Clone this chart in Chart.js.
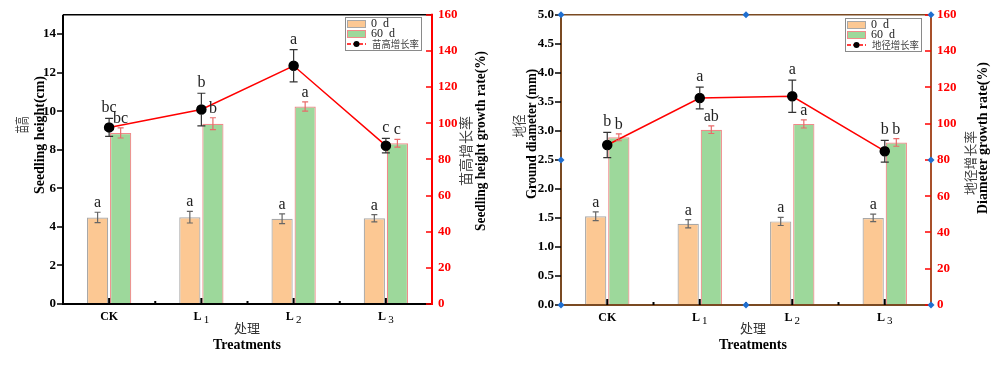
<!DOCTYPE html>
<html><head><meta charset="utf-8">
<script src="https://cdn.jsdelivr.net/npm/chart.js@4/dist/chart.umd.min.js"></script>
<style>
html,body{margin:0;padding:0;background:#fff;width:1000px;height:365px;overflow:hidden}
.wrap{position:absolute;top:0;width:500px;height:365px}
</style></head><body>
<div class="wrap" style="left:0"><canvas id="c1" width="500" height="365"></canvas></div>
<div class="wrap" style="left:500px"><canvas id="c2" width="500" height="365"></canvas></div>
<script>
// ---------- data ----------
const categories = ['CK', 'L1', 'L2', 'L3'];
const seriesNames = ['0  d', '60  d'];

// Seedling height (cm)
const height0 = [4.49, 4.50, 4.42, 4.45];
const height0Err = [0.27, 0.30, 0.25, 0.19];
const height60 = [8.87, 9.35, 10.24, 8.34];
const height60Err = [0.26, 0.31, 0.24, 0.20];
const heightRate = [97.7, 107.6, 131.8, 87.6];
const heightRateErr = [5.0, 9.0, 8.9, 4.0];
const height0Sig = ['a', 'a', 'a', 'a'];
const height60Sig = ['bc', 'b', 'a', 'c'];
const heightRateSig = ['bc', 'b', 'a', 'c'];

// Ground diameter (mm)
const diam0 = [1.53, 1.40, 1.44, 1.50];
const diam0Err = [0.075, 0.07, 0.07, 0.065];
const diam60 = [2.89, 3.02, 3.12, 2.80];
const diam60Err = [0.06, 0.065, 0.07, 0.065];
const diamRate = [88.2, 114.1, 115.1, 84.8];
const diamRateErr = [7.0, 6.0, 8.9, 6.0];
const diam0Sig = ['a', 'a', 'a', 'a'];
const diam60Sig = ['b', 'ab', 'a', 'b'];
const diamRateSig = ['b', 'a', 'a', 'b'];

// tick labels
const heightTicks = [0, 2, 4, 6, 8, 10, 12, 14];
const diamTicks = [0, 0.5, 1.0, 1.5, 2.0, 2.5, 3.0, 3.5, 4.0, 4.5, 5.0];
const rateTicks = [0, 20, 40, 60, 80, 100, 120, 140, 160];

// ---------- styles ----------
const ORANGE = '#fcc893', ORANGE_BORDER = '#a8a8a8';
const GREEN = '#9dd89b', GREEN_BORDER = '#f08a8a';
const RED = '#ff0000';
const SERIF = '"Liberation Serif", "Times New Roman", serif';
const CJK = '"Noto Sans CJK SC", sans-serif';

function makeChart(id, cfg) {
  const plugin = {
    id: 'decor' + id,
    afterDatasetsDraw(chart) {
      const ctx = chart.ctx, a = chart.chartArea;
      const xs = chart.scales.x, yl = chart.scales.y, yr = chart.scales.y2;
      ctx.save();
      // error bars + significance letters
      const errSets = [
        {ds: 0, vals: cfg.v0, err: cfg.e0, color: '#666666', cap: 3, scale: yl, sig: cfg.s0, gap: 5},
        {ds: 1, vals: cfg.v60, err: cfg.e60, color: '#e96a6a', cap: 3, scale: yl, sig: cfg.s60, gap: 5},
        {ds: 2, vals: cfg.rate, err: cfg.rateErr, color: '#333333', cap: 4, scale: yr, sig: cfg.sRate, gap: 6}
      ];
      errSets.forEach(es => {
        const meta = chart.getDatasetMeta(es.ds);
        es.vals.forEach((v, j) => {
          const x = meta.data[j].x;
          const yt = es.scale.getPixelForValue(v + es.err[j]);
          const yb = es.scale.getPixelForValue(v - es.err[j]);
          ctx.strokeStyle = es.color; ctx.lineWidth = 1.2;
          ctx.beginPath();
          ctx.moveTo(x, yt); ctx.lineTo(x, yb);
          ctx.moveTo(x - es.cap, yt); ctx.lineTo(x + es.cap, yt);
          ctx.moveTo(x - es.cap, yb); ctx.lineTo(x + es.cap, yb);
          ctx.stroke();
          ctx.fillStyle = '#222';
          ctx.font = '16px ' + SERIF;
          ctx.textAlign = 'center'; ctx.textBaseline = 'alphabetic';
          ctx.fillText(es.sig[j], x, yt - es.gap);
        });
      });
      // rate points on top of error bars
      const lm = chart.getDatasetMeta(2);
      lm.data.forEach(p => {
        ctx.fillStyle = '#000';
        ctx.beginPath(); ctx.arc(p.x, p.y, 4.5, 0, Math.PI * 2); ctx.fill();
      });

      // axes lines
      ctx.lineCap = 'butt';
      ctx.strokeStyle = cfg.axisColor; ctx.lineWidth = 2;
      ctx.beginPath(); ctx.moveTo(a.left, a.top); ctx.lineTo(a.left, a.bottom + 1); ctx.stroke();
      ctx.beginPath(); ctx.moveTo(a.left - 1, a.bottom); ctx.lineTo(a.right, a.bottom); ctx.stroke();
      ctx.lineWidth = 1.5;
      ctx.beginPath(); ctx.moveTo(a.left, a.top); ctx.lineTo(a.right, a.top); ctx.stroke();
      ctx.strokeStyle = cfg.rightColor; ctx.lineWidth = 2;
      ctx.beginPath(); ctx.moveTo(a.right, a.top - 1); ctx.lineTo(a.right, a.bottom + 1); ctx.stroke();

      // left ticks (outward)
      ctx.strokeStyle = '#000'; ctx.lineWidth = 1.5;
      yl.ticks.forEach(t => {
        const y = Math.round(yl.getPixelForValue(t.value));
        ctx.beginPath(); ctx.moveTo(a.left - 6, y); ctx.lineTo(a.left, y); ctx.stroke();
      });
      // right ticks (inward, red)
      ctx.strokeStyle = RED; ctx.lineWidth = 1.5;
      yr.ticks.forEach(t => {
        const y = Math.round(yr.getPixelForValue(t.value));
        ctx.beginPath(); ctx.moveTo(a.right - 6, y); ctx.lineTo(a.right, y); ctx.stroke();
      });
      // x ticks (inward) and category labels with subscripts
      const n = categories.length, cw = (a.right - a.left) / n;
      for (let i = 0; i < n; i++) {
        const x = xs.getPixelForValue(i);
        ctx.strokeStyle = '#000'; ctx.lineWidth = 2;
        ctx.beginPath(); ctx.moveTo(x, a.bottom); ctx.lineTo(x, a.bottom - 6); ctx.stroke();
        if (i > 0) {
          const xb = a.left + cw * i;
          ctx.beginPath(); ctx.moveTo(xb, a.bottom); ctx.lineTo(xb, a.bottom - 3); ctx.stroke();
        }
        const lab = categories[i];
        const m = lab.match(/^([A-Za-z]+?)(\d*)$/);
        const main = m ? m[1] : lab, sub = m ? m[2] : '';
        ctx.fillStyle = '#000'; ctx.textBaseline = 'alphabetic';
        ctx.font = 'bold 12px ' + SERIF;
        const w1 = ctx.measureText(main).width;
        ctx.font = 'bold 11px ' + SERIF;
        const w2 = sub ? ctx.measureText(sub).width + 2 : 0;
        const x0 = x - (w1 + w2) / 2;
        ctx.textAlign = 'left';
        ctx.font = 'bold 12px ' + SERIF;
        ctx.fillText(main, x0, a.bottom + 16);
        if (sub) {
          ctx.font = '11px ' + SERIF;
          ctx.fillText(sub, x0 + w1 + 2, a.bottom + 19);
        }
      }

      // blue anchor diamonds
      if (cfg.anchors) {
        const mx = (a.left + a.right) / 2, my = (a.top + a.bottom) / 2;
        const pts = [[a.left, a.top], [mx, a.top], [a.right, a.top], [a.left, my], [a.right, my],
                     [a.left, a.bottom], [mx, a.bottom], [a.right, a.bottom]];
        ctx.fillStyle = '#1f6fd1';
        pts.forEach(([x, y]) => {
          ctx.beginPath();
          ctx.moveTo(x, y - 3.5); ctx.lineTo(x + 3.5, y); ctx.lineTo(x, y + 3.5); ctx.lineTo(x - 3.5, y);
          ctx.closePath(); ctx.fill();
        });
      }

      // legend
      const L = cfg.legend;
      ctx.fillStyle = '#fff'; ctx.fillRect(L.x, L.y, 77, 33);
      ctx.strokeStyle = '#8a8a8a'; ctx.lineWidth = 1;
      ctx.strokeRect(L.x + 0.5, L.y + 0.5, 76, 33);
      ctx.fillStyle = ORANGE; ctx.fillRect(L.x + 2, L.y + 3, 19, 7);
      ctx.strokeStyle = ORANGE_BORDER; ctx.strokeRect(L.x + 2.5, L.y + 3.5, 18, 7);
      ctx.fillStyle = GREEN; ctx.fillRect(L.x + 2, L.y + 13, 19, 7);
      ctx.strokeStyle = GREEN_BORDER; ctx.strokeRect(L.x + 2.5, L.y + 13.5, 18, 7);
      ctx.strokeStyle = RED; ctx.lineWidth = 1.5; ctx.setLineDash([4, 2]);
      ctx.beginPath(); ctx.moveTo(L.x + 2, L.y + 27); ctx.lineTo(L.x + 21, L.y + 27); ctx.stroke();
      ctx.setLineDash([]);
      ctx.fillStyle = '#000'; ctx.beginPath(); ctx.arc(L.x + 11.5, L.y + 27, 3, 0, Math.PI * 2); ctx.fill();
      ctx.textAlign = 'left'; ctx.textBaseline = 'middle';
      ctx.fillStyle = '#222'; ctx.font = '12px ' + SERIF;
      ctx.fillText(seriesNames[0], L.x + 26, L.y + 7);
      ctx.fillText(seriesNames[1], L.x + 26, L.y + 17);
      ctx.fillStyle = '#444'; ctx.font = '10.5px ' + CJK;
      ctx.fillText(cfg.rateName, L.x + 27, L.y + 27, 47);

      // axis titles
      const vtext = (txt, x, y, font, color, maxW) => {
        ctx.save(); ctx.translate(x, y); ctx.rotate(-Math.PI / 2);
        ctx.font = font; ctx.fillStyle = color; ctx.textAlign = 'center'; ctx.textBaseline = 'middle';
        if (maxW) ctx.fillText(txt, 0, 0, maxW); else ctx.fillText(txt, 0, 0);
        ctx.restore();
      };
      cfg.titles.forEach(t => vtext(t.text, t.x, t.y, t.font, t.color, t.maxW));
      ctx.textAlign = 'center'; ctx.textBaseline = 'middle';
      ctx.fillStyle = '#333'; ctx.font = '13px ' + CJK;
      ctx.fillText('处理', cfg.xTitleX, 328);
      ctx.fillStyle = '#000'; ctx.font = 'bold 14px ' + SERIF;
      ctx.fillText('Treatments', cfg.xTitleX, 345);
      ctx.restore();
    }
  };

  return new Chart(document.getElementById(id), {
    type: 'bar',
    data: {
      labels: categories,
      datasets: [
        {label: seriesNames[0], data: cfg.v0, backgroundColor: ORANGE, borderColor: ORANGE_BORDER, borderWidth: 1.2,
         categoryPercentage: 0.5, barPercentage: 0.92, yAxisID: 'y', order: 2},
        {label: seriesNames[1], data: cfg.v60, backgroundColor: GREEN, borderColor: GREEN_BORDER, borderWidth: 1.2,
         categoryPercentage: 0.5, barPercentage: 0.92, yAxisID: 'y', order: 2},
        {type: 'line', label: cfg.rateName, data: cfg.rate, borderColor: RED, borderWidth: 1.5,
         pointRadius: 4.5, pointBackgroundColor: '#000', pointBorderColor: '#000', yAxisID: 'y2', order: 1, tension: 0}
      ]
    },
    options: {
      responsive: false, animation: false, devicePixelRatio: 1,
      layout: {padding: {top: 13, left: 0, right: 0, bottom: 0}},
      plugins: {legend: {display: false}, tooltip: {enabled: false}},
      scales: {
        x: {
          offset: true,
          grid: {display: false, drawTicks: false, tickLength: 0}, border: {display: false},
          ticks: {display: false},
          afterFit: s => { s.height = cfg.xH; }
        },
        y: {
          position: 'left', min: 0, max: cfg.yMax,
          grid: {display: false, drawTicks: false, tickLength: 0}, border: {display: false},
          afterBuildTicks: s => { s.ticks = cfg.yTicks.map(v => ({value: v})); },
          ticks: {color: '#000', font: {family: SERIF, size: 13, weight: 'bold'}, padding: 7,
                  callback: v => cfg.yFmt(v)},
          afterFit: s => { s.width = cfg.yW; }
        },
        y2: {
          position: 'right', min: 0, max: 160,
          grid: {display: false, drawTicks: false, tickLength: 0}, border: {display: false},
          afterBuildTicks: s => { s.ticks = rateTicks.map(v => ({value: v})); },
          ticks: {color: RED, font: {family: SERIF, size: 13, weight: 'bold'}, padding: 6},
          afterFit: s => { s.width = cfg.y2W; }
        }
      }
    },
    plugins: [plugin]
  });
}

makeChart('c1', {
  v0: height0, e0: height0Err, v60: height60, e60: height60Err, rate: heightRate, rateErr: heightRateErr,
  s0: height0Sig, s60: height60Sig, sRate: heightRateSig,
  rateName: '苗高增长率', yMax: 15, yTicks: heightTicks, yFmt: v => String(v),
  yW: 63, y2W: 68, xH: 61, axisColor: '#000', rightColor: RED, anchors: false,
  legend: {x: 345, y: 17}, xTitleX: 247,
  titles: [
    {text: '苗高', x: 22, y: 125, font: '14px ' + CJK, color: '#444', maxW: 17},
    {text: 'Seedling height(cm)', x: 40, y: 135, font: 'bold 14px ' + SERIF, color: '#000', maxW: 118},
    {text: '苗高增长率', x: 466, y: 151, font: '14px ' + CJK, color: '#444'},
    {text: 'Seedling height growth rate(%)', x: 481, y: 141, font: 'bold 14px ' + SERIF, color: '#000', maxW: 180}
  ]
});

makeChart('c2', {
  v0: diam0, e0: diam0Err, v60: diam60, e60: diam60Err, rate: diamRate, rateErr: diamRateErr,
  s0: diam0Sig, s60: diam60Sig, sRate: diamRateSig,
  rateName: '地径增长率', yMax: 5, yTicks: diamTicks, yFmt: v => v.toFixed(1),
  yW: 61, y2W: 69, xH: 60, axisColor: '#7a4a22', rightColor: '#a8502a', anchors: true,
  legend: {x: 345, y: 18}, xTitleX: 253,
  titles: [
    {text: '地径', x: 19, y: 126, font: '14px ' + CJK, color: '#444', maxW: 23},
    {text: 'Ground diameter (mm)', x: 32, y: 134, font: 'bold 14px ' + SERIF, color: '#000', maxW: 130},
    {text: '地径增长率', x: 470, y: 163, font: '13px ' + CJK, color: '#444', maxW: 64},
    {text: 'Diameter growth rate(%)', x: 483, y: 138, font: 'bold 14px ' + SERIF, color: '#000', maxW: 152}
  ]
});
</script>
</body></html>
